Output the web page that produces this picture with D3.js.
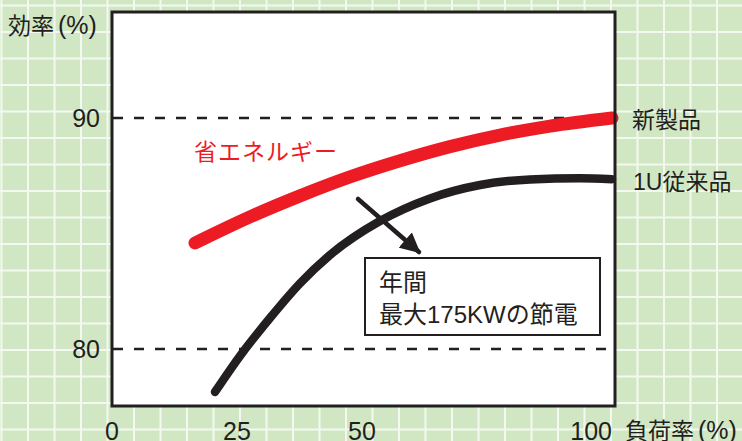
<!DOCTYPE html>
<html>
<head>
<meta charset="utf-8">
<script src="https://cdn.jsdelivr.net/npm/d3@7"></script>
<style>
  body { margin: 0; background: #d1e7c4; }
  svg { display: block; }
  text { font-family: "Liberation Sans", "Noto Sans CJK JP", sans-serif; fill: #231f20; }
</style>
</head>
<body>
<svg id="chart" width="742" height="441"></svg>
<script>
// load factor (%) vs efficiency (%)
var xTicks = [0, 25, 50, 100];
var yTicks = [80, 90];

// new product (red)
var newLoad = [16.6, 27.6, 37.6, 47.6, 57.6, 67.6, 77.6, 87.6, 100];
var newEff  = [84.59, 85.72, 86.63, 87.45, 88.15, 88.76, 89.26, 89.65, 90.0];

// old 1U product (black)
var oldLoad = [20.6, 25.6, 31.6, 37.6, 43.6, 53.6, 63.6, 73.6, 83.6, 93.6, 100];
var oldEff  = [78.14, 79.70, 81.34, 82.84, 84.07, 85.54, 86.52, 87.10, 87.34, 87.39, 87.35];

var W = 742, H = 441;
var box = {left: 112, right: 615, top: 12, bottom: 406};

var svg = d3.select("#chart");

// background grid
var gridStep = 26.5;
svg.append("g").selectAll("line")
    .data(d3.range(1.5, W, gridStep))
    .join("line")
    .attr("x1", d => d).attr("x2", d => d)
    .attr("y1", 0).attr("y2", H)
    .attr("stroke", "#f4f9f0").attr("stroke-width", 2);
svg.append("g").selectAll("line")
    .data(d3.range(5.5, H, gridStep))
    .join("line")
    .attr("x1", 0).attr("x2", W)
    .attr("y1", d => d).attr("y2", d => d)
    .attr("stroke", "#f4f9f0").attr("stroke-width", 2);

var x = d3.scaleLinear().domain([0, 100]).range([112, 612]);
var y = d3.scaleLinear().domain([80, 90]).range([349, 118]);

// plot area
svg.append("rect")
    .attr("x", box.left).attr("y", box.top)
    .attr("width", box.right - box.left).attr("height", box.bottom - box.top)
    .attr("fill", "#fff");

// dashed reference lines
svg.selectAll("line.ref")
    .data(yTicks)
    .join("line")
    .attr("class", "ref")
    .attr("x1", box.left + 1).attr("x2", box.right)
    .attr("y1", d => y(d)).attr("y2", d => y(d))
    .attr("stroke", "#231f20").attr("stroke-width", 2.5)
    .attr("stroke-dasharray", "10 11");

var line = d3.line()
    .x(d => x(d[0]))
    .y(d => y(d[1]))
    .curve(d3.curveMonotoneX);

svg.append("path")
    .datum(d3.zip(oldLoad, oldEff))
    .attr("d", line)
    .attr("fill", "none")
    .attr("stroke", "#231f20")
    .attr("stroke-width", 8.5)
    .attr("stroke-linecap", "round");

svg.append("path")
    .datum(d3.zip(newLoad, newEff))
    .attr("d", line)
    .attr("fill", "none")
    .attr("stroke", "#ed1c24")
    .attr("stroke-width", 13)
    .attr("stroke-linecap", "round");

// box border on top
svg.append("rect")
    .attr("x", box.left).attr("y", box.top)
    .attr("width", box.right - box.left).attr("height", box.bottom - box.top)
    .attr("fill", "none")
    .attr("stroke", "#231f20").attr("stroke-width", 3);

// tick labels
svg.selectAll("text.xt")
    .data(xTicks)
    .join("text")
    .attr("class", "xt")
    .attr("x", d => x(d))
    .attr("y", 440)
    .attr("text-anchor", d => d == 100 ? "end" : "middle")
    .attr("font-size", 25)
    .text(d => d);

svg.selectAll("text.yt")
    .data(yTicks)
    .join("text")
    .attr("class", "yt")
    .attr("x", 100)
    .attr("y", d => y(d) + 9)
    .attr("text-anchor", "end")
    .attr("font-size", 25)
    .text(d => d);

// axis titles: CJK part + (%) with a little gap
function title(xp, yp, main) {
    var t = svg.append("text").attr("x", xp).attr("y", yp).attr("font-size", 23);
    t.append("tspan").text(main);
    t.append("tspan").attr("dx", 4).attr("font-size", 25).text("(%)");
}
title(8, 34, "効率");
title(625, 439, "負荷率");

// series labels
svg.append("text").attr("x", 632).attr("y", 128).attr("font-size", 23).text("新製品");
svg.append("text").attr("x", 633).attr("y", 190).attr("font-size", 23).text("1U従来品");
svg.append("text").attr("x", 194).attr("y", 160).attr("font-size", 23)
    .attr("letter-spacing", 1)
    .style("fill", "#ed1c24").text("省エネルギー");

// arrow
svg.append("defs").append("marker")
    .attr("id", "ah")
    .attr("viewBox", "0 0 10 10")
    .attr("refX", 9).attr("refY", 5)
    .attr("markerWidth", 4.5).attr("markerHeight", 4.5)
    .attr("markerUnits", "strokeWidth")
    .attr("orient", "auto")
    .append("path")
    .attr("d", "M0,0 L10,5 L0,10 z")
    .attr("fill", "#231f20");

svg.append("line")
    .attr("x1", 358).attr("y1", 199)
    .attr("x2", 419).attr("y2", 252)
    .attr("stroke", "#231f20").attr("stroke-width", 4.5)
    .attr("stroke-linecap", "round")
    .attr("marker-end", "url(#ah)");

// note box
svg.append("rect")
    .attr("x", 365).attr("y", 258)
    .attr("width", 235).attr("height", 77)
    .attr("fill", "#fff")
    .attr("stroke", "#231f20").attr("stroke-width", 2);
svg.append("text").attr("x", 379).attr("y", 291).attr("font-size", 24).text("年間");
svg.append("text").attr("x", 379).attr("y", 323).attr("font-size", 24).text("最大175KWの節電");
</script>
</body>
</html>
